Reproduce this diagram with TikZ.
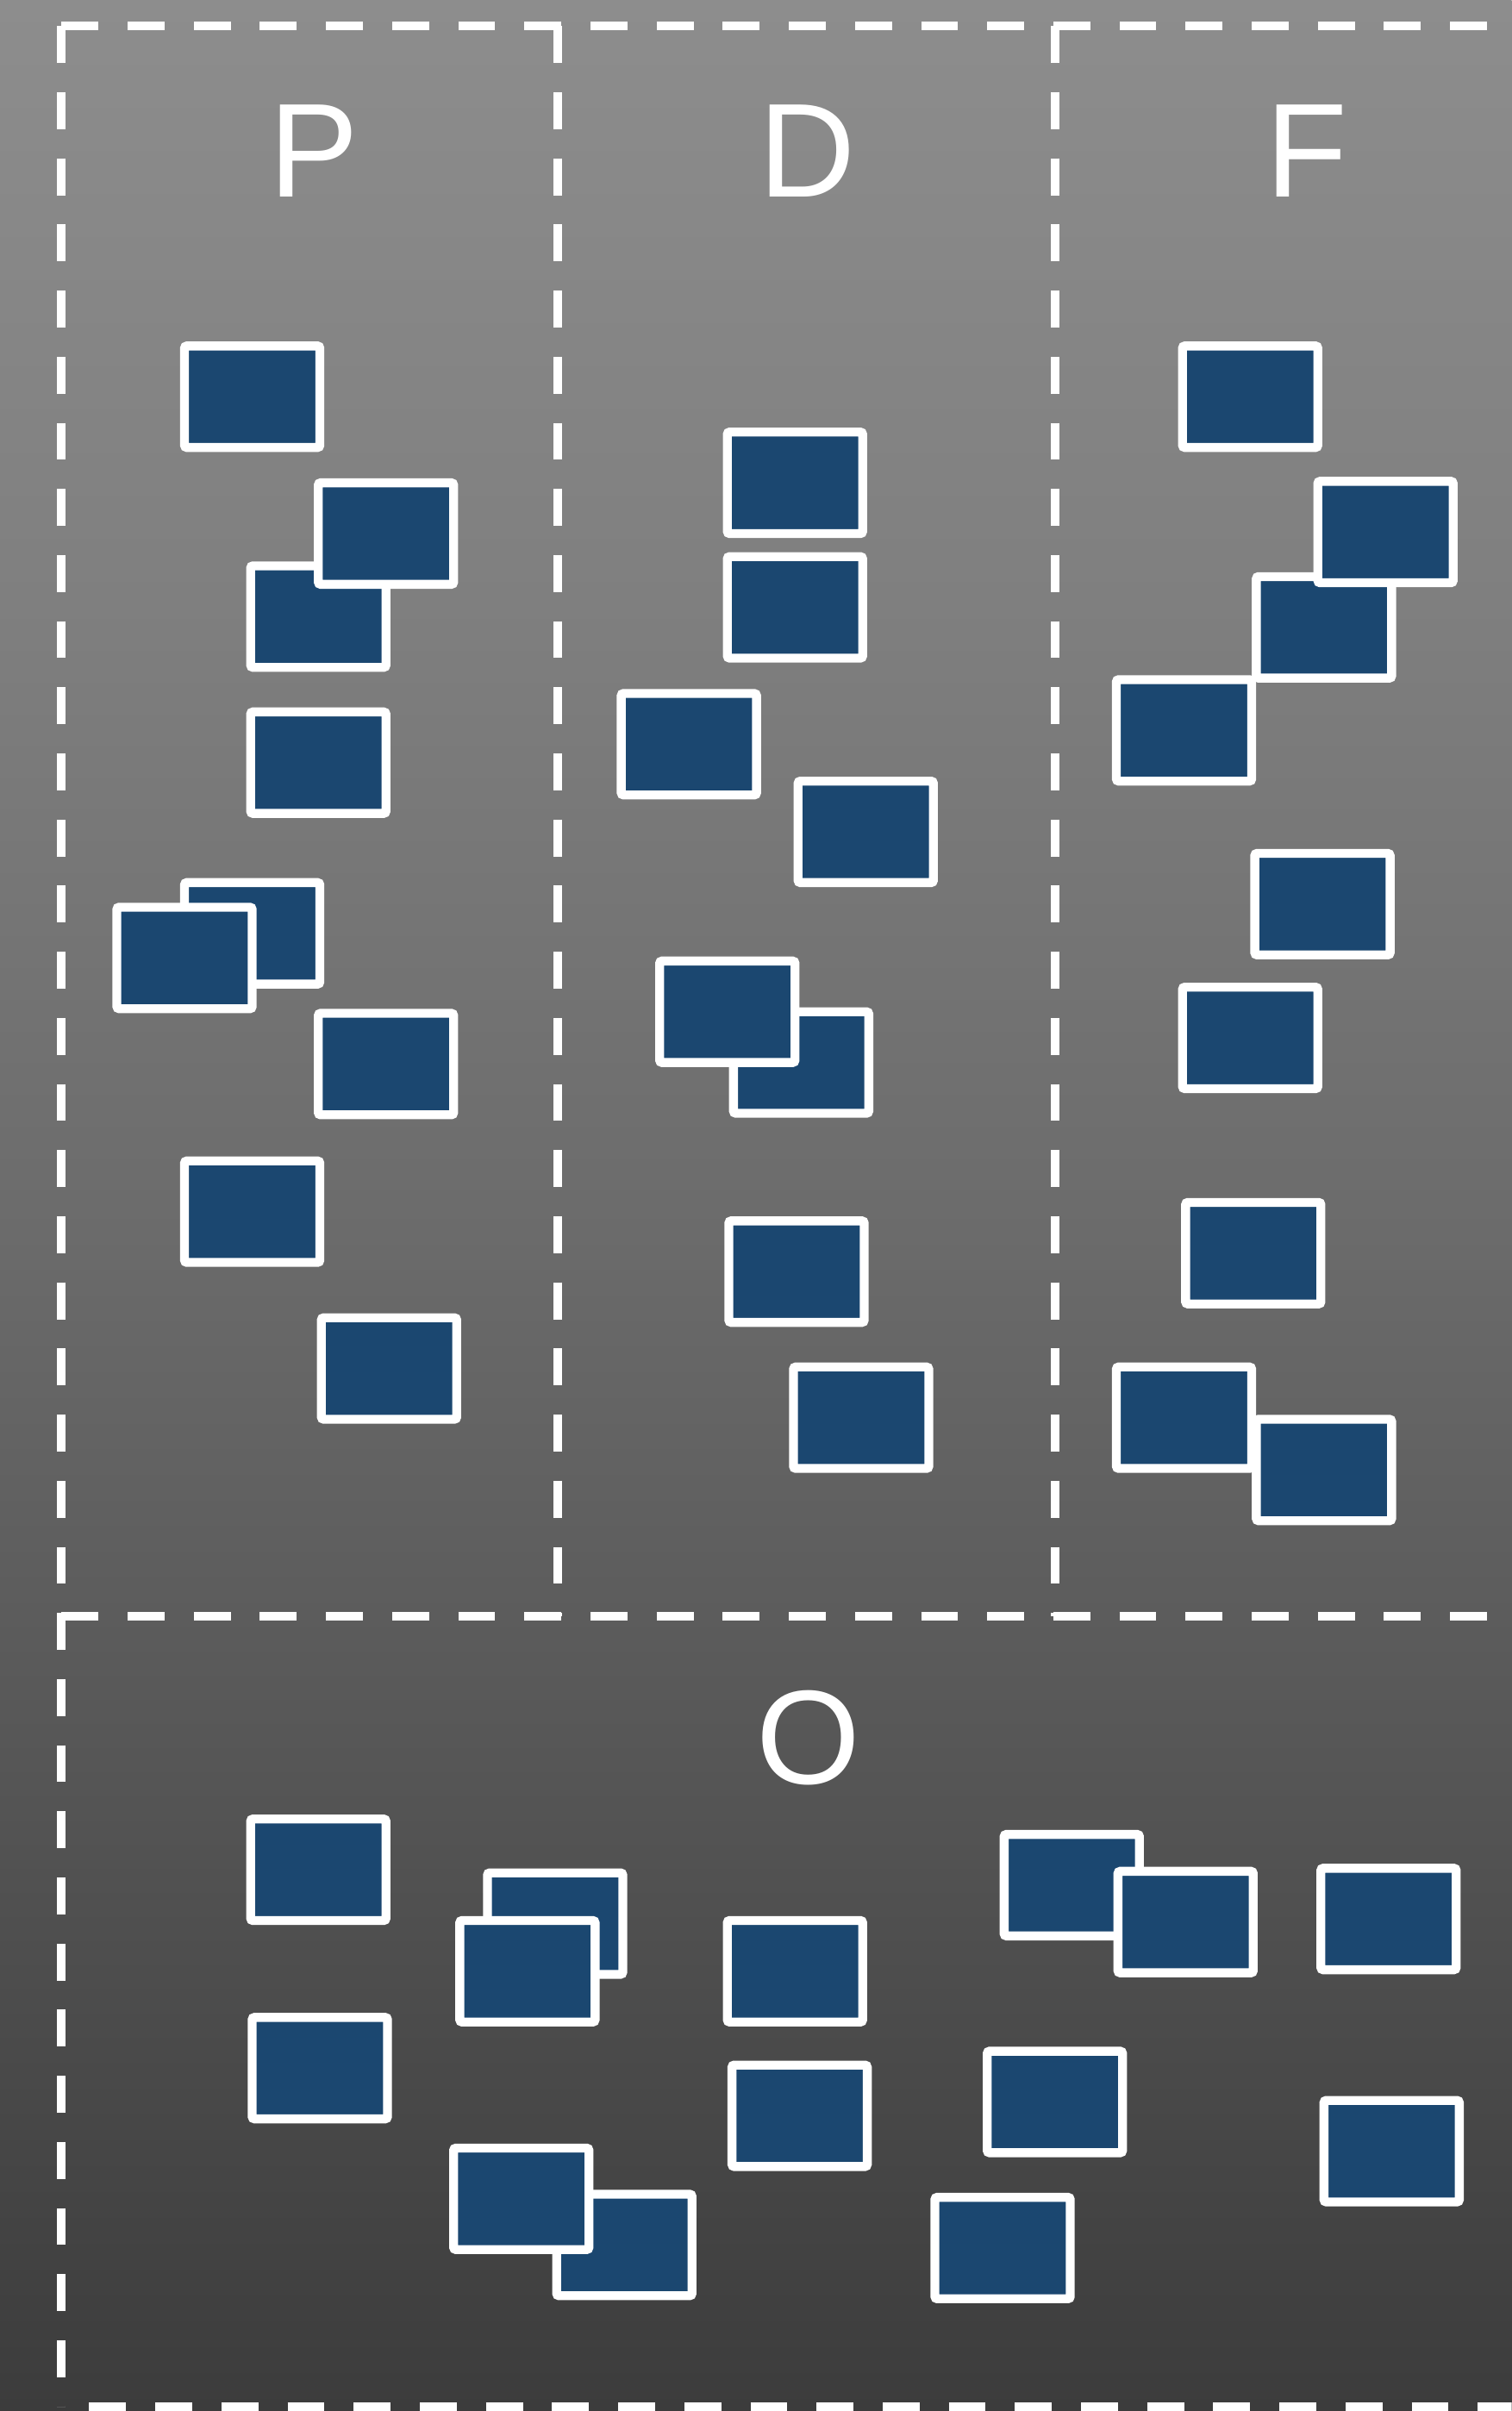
\documentclass[tikz,border=0pt]{standalone}
\usepackage{fontspec}
\setmainfont{Liberation Sans}
\definecolor{cardblue}{RGB}{27,71,112}
\definecolor{gA}{RGB}{60,60,60}
\definecolor{gB}{RGB}{74,74,74}
\definecolor{gC}{RGB}{92,92,92}
\definecolor{gD}{RGB}{108,108,108}
\definecolor{gE}{RGB}{127,127,127}
\definecolor{gF}{RGB}{141,141,141}
\pgfdeclareverticalshading{bgshade}{100bp}{color(0bp)=(gA); color(25bp)=(gA); color(32.5bp)=(gB); color(41.5bp)=(gC); color(50bp)=(gD); color(62.5bp)=(gE); color(75bp)=(gF); color(100bp)=(gF)}
\begin{document}
\begin{tikzpicture}[x=1pt,y=-1pt,
  card/.style={draw=white, fill=cardblue, line width=5.8pt, minimum width=88pt, minimum height=66pt, inner sep=0pt, rounded corners=1.5pt},
  bound/.style={draw=white, line width=5.5pt, dash pattern=on 24pt off 19pt},
  lbl/.style={text=white, font=\fontsize{87}{100}\selectfont, anchor=base, inner sep=0pt}]
\useasboundingbox (0,0) rectangle (983,1568);
\clip (0,0) rectangle (983,1568);
\shade[shading=bgshade] (0,0) rectangle (983,1568);

% region boundaries
\coordinate (tl) at (40,17);
\coordinate (tr) at (1000,17);
\coordinate (ml) at (40,1051);
\coordinate (mr) at (1000,1051);
\coordinate (bl) at (40,1565);
\coordinate (br) at (1000,1565);
\coordinate (d1t) at (362.5,17);
\coordinate (d1b) at (362.5,1051);
\coordinate (d2t) at (686,17);
\coordinate (d2b) at (686,1051);
\draw[bound] (tl) -- (tr);
\draw[bound] (tl) -- (bl);
\draw[bound] (ml) -- (mr);
\draw[bound, dash phase=25pt] (bl) -- (br);
\draw[bound] (d1t) -- (d1b);
\draw[bound] (d2t) -- (d2b);

% labels
\node[lbl] (lp) at (204,128) {P};
\node[lbl] (ld) at (525,128) {D};
\node[lbl] (lf) at (850,128) {F};
\node[lbl] (lo) at (525.5,1160) {O};

% P column
\node[card] (p1) at (164,258) {};
\node[card] (p3) at (207,401) {};
\node[card] (p2) at (251,347) {};
\node[card] (p4) at (207,496) {};
\node[card] (p5) at (164,607) {};
\node[card] (p6) at (120,623) {};
\node[card] (p7) at (251,692) {};
\node[card] (p8) at (164,788) {};
\node[card] (p9) at (253,890) {};

% D column
\node[card] (d1) at (517,314) {};
\node[card] (d2) at (517,395) {};
\node[card] (d3) at (448,484) {};
\node[card] (d4) at (563,541) {};
\node[card] (d6) at (521,691) {};
\node[card] (d5) at (473,658) {};
\node[card] (d7) at (518,827) {};
\node[card] (d8) at (560,922) {};

% F column
\node[card] (f1) at (813,258) {};
\node[card] (f3) at (861,408) {};
\node[card] (f2) at (901,346) {};
\node[card] (f4) at (770,475) {};
\node[card] (f5) at (860,588) {};
\node[card] (f6) at (813,675) {};
\node[card] (f7) at (815,815) {};
\node[card] (f8) at (770,922) {};
\node[card] (f9) at (861,956) {};

% O region
\node[card] (o1) at (207,1216) {};
\node[card] (o2) at (361,1251) {};
\node[card] (o3) at (343,1282) {};
\node[card] (o4) at (517,1282) {};
\node[card] (o5) at (208,1345) {};
\node[card] (o6) at (520,1376) {};
\node[card] (o8) at (406,1460) {};
\node[card] (o7) at (339,1430) {};
\node[card] (o9) at (697,1226) {};
\node[card] (o10) at (771,1250) {};
\node[card] (o11) at (903,1248) {};
\node[card] (o12) at (686,1367) {};
\node[card] (o13) at (905,1399) {};
\node[card] (o14) at (652,1462) {};
\end{tikzpicture}
\end{document}
